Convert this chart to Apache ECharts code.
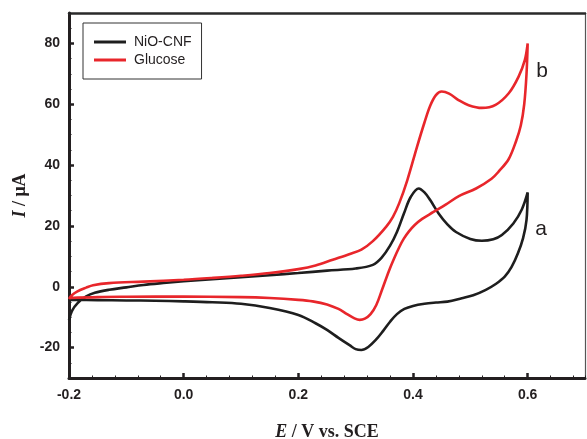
<!DOCTYPE html>
<html>
<head>
<meta charset="utf-8">
<script src="https://cdn.jsdelivr.net/npm/echarts@6/dist/echarts.min.js"></script>
<style>
  html, body { margin: 0; padding: 0; background: #fff; }
  #cv { width: 587px; height: 439px; }
</style>
</head>
<body>
<div id="cv"></div>
<script>
// tick labels
var potentialTicks = [-0.2, 0.0, 0.2, 0.4, 0.6]
var currentTicks = [-20, 0, 20, 40, 60, 80]

// curve a: NiO-CNF, forward scan then reverse scan
var nioE = [-0.2, -0.195, -0.185, -0.17, -0.155, -0.13, -0.1, -0.07, -0.03, 0.0, 0.05, 0.1, 0.15, 0.2, 0.25, 0.3,
  0.33, 0.345, 0.36, 0.372, 0.384, 0.396, 0.41, 0.42, 0.43, 0.445, 0.46, 0.475, 0.5, 0.52, 0.54, 0.555, 0.575, 0.59, 0.6,
  0.598, 0.592, 0.583, 0.572, 0.56, 0.545, 0.527, 0.505, 0.485, 0.46, 0.44, 0.42, 0.4, 0.385, 0.372, 0.36, 0.348, 0.335,
  0.322, 0.31, 0.3, 0.29, 0.27, 0.25, 0.23, 0.2, 0.15, 0.1, 0.05, 0.0, -0.05, -0.1, -0.15, -0.2]
var nioI = [-11, -8, -5.4, -3.2, -2, -1, -0.2, 0.6, 1.3, 1.8, 2.5, 3.1, 3.8, 4.5, 5.3, 6.0,
  7.2, 9.5, 13.5, 18, 24, 29.5, 32.3, 31, 28.5, 24, 20.5, 18, 15.7, 15.1, 15.6, 17, 20.8, 25.5, 31,
  22, 16, 11, 6.5, 3.3, 1, -1, -2.8, -3.8, -4.9, -5.2, -5.6, -6.3, -7.3, -9, -11.5, -14.5, -17.5,
  -19.8, -20.8, -20.5, -19.3, -16.8, -14.2, -12, -9.3, -7, -5.6, -5.1, -4.8, -4.6, -4.5, -4.4, -4.3]

// curve b: Glucose
var glucoseE = [-0.2, -0.195, -0.186, -0.17, -0.158, -0.13, -0.07, 0.0, 0.05, 0.1, 0.15, 0.2, 0.23, 0.26, 0.29, 0.31,
  0.33, 0.353, 0.365, 0.376, 0.39, 0.407, 0.42, 0.43, 0.44, 0.45, 0.463, 0.48, 0.497, 0.52, 0.544, 0.567, 0.584, 0.595, 0.6,
  0.598, 0.594, 0.588, 0.58, 0.567, 0.55, 0.537, 0.51, 0.48, 0.457, 0.435, 0.416, 0.403, 0.393, 0.384, 0.376, 0.367,
  0.358, 0.346, 0.336, 0.326, 0.316, 0.307, 0.298, 0.285, 0.27, 0.25, 0.225, 0.2, 0.15, 0.1, 0.0, -0.1, -0.15, -0.2]
var glucoseI = [-4, -2.8, -1.6, -0.3, 0.5, 1.2, 1.7, 2.3, 2.9, 3.6, 4.5, 5.8, 7, 8.9, 10.8, 12.2,
  15, 19.7, 23, 27.5, 35, 46, 54, 59.5, 63, 64.2, 63.5, 61.3, 59.7, 58.8, 59.8, 63.6, 69, 74.5, 80,
  70, 60, 53, 48, 42, 38, 35.5, 32.3, 29.8, 27, 24.5, 22.3, 20.3, 18.2, 15.8, 13, 9.3,
  5.2, -1, -6, -9, -10.5, -10.9, -10.4, -9, -7.3, -5.8, -4.8, -4.3, -3.7, -3.4, -3.2, -3.3, -3.4, -3.7]

function pairs(xs, ys) {
  return xs.map(function(x, i) {
    return [x, ys[i]]
  })
}

var chart = echarts.init(document.getElementById('cv'))
var ink = '#231f20'
var serif = '"Liberation Serif", "DejaVu Serif", serif'
var sans = '"Liberation Sans", Arial, sans-serif'

chart.setOption({
  animation: false,
  color: ['#1e1e1e', '#e8262b'],
  grid: { left: 69, right: 2, top: 13, bottom: 61, outerBoundsMode: 'none' },
  legend: {
    left: 83,
    top: 23,
    orient: 'vertical',
    padding: [11, 10, 11, 11],
    itemWidth: 32,
    itemHeight: 3,
    itemGap: 2,
    borderColor: '#333',
    borderWidth: 1,
    textStyle: { fontFamily: sans, fontSize: 14, lineHeight: 16, color: ink, padding: [0, 0, 0, 3] },
    data: [{ name: 'NiO-CNF', icon: 'rect' }, { name: 'Glucose', icon: 'rect' }]
  },
  xAxis: [
    {
      type: 'value',
      min: -0.2,
      max: 0.7,
      name: '{i|E} / V vs. SCE',
      nameLocation: 'middle',
      nameGap: 45,
      nameTextStyle: {
        fontFamily: serif, fontWeight: 'bold', fontSize: 18, color: ink,
        rich: { i: { fontFamily: serif, fontWeight: 'bold', fontStyle: 'italic', fontSize: 18, color: ink } }
      },
      axisLine: { onZero: false, lineStyle: { color: ink, width: 3 } },
      axisTick: { inside: true, length: 5, lineStyle: { width: 2.5, color: ink }, customValues: potentialTicks },
      axisLabel: {
        customValues: potentialTicks,
        margin: 10,
        fontFamily: sans, fontWeight: 'bold', fontSize: 14, color: ink,
        formatter: function(v) { return v.toFixed(1) }
      },
      splitLine: { show: false }
    },
    {
      // minor ticks
      type: 'value',
      position: 'bottom',
      min: -0.2,
      max: 0.7,
      interval: 0.04,
      axisLine: { show: false, onZero: false },
      axisTick: { inside: true, length: 2.5, lineStyle: { width: 1, color: ink } },
      axisLabel: { show: false },
      splitLine: { show: false }
    },
    {
      // top frame
      type: 'value',
      position: 'top',
      min: -0.2,
      max: 0.7,
      axisLine: { onZero: false, lineStyle: { color: '#2a2a2a', width: 2.5 } },
      axisTick: { show: false },
      axisLabel: { show: false },
      splitLine: { show: false }
    }
  ],
  yAxis: [
    {
      type: 'value',
      min: -30,
      max: 90,
      name: '{i|I} / μA',
      nameLocation: 'middle',
      nameGap: 40,
      nameTextStyle: {
        fontFamily: serif, fontWeight: 'bold', fontSize: 18, color: ink,
        rich: { i: { fontFamily: serif, fontWeight: 'bold', fontStyle: 'italic', fontSize: 18, color: ink } }
      },
      axisLine: { onZero: false, lineStyle: { color: ink, width: 3 } },
      axisTick: { inside: true, length: 5, lineStyle: { width: 2.5, color: ink }, customValues: currentTicks },
      axisLabel: {
        customValues: currentTicks,
        margin: 9,
        fontFamily: sans, fontWeight: 'bold', fontSize: 14, color: ink
      },
      splitLine: { show: false }
    },
    {
      // minor ticks
      type: 'value',
      position: 'left',
      min: -30,
      max: 90,
      interval: 5,
      axisLine: { show: false, onZero: false },
      axisTick: { inside: true, length: 2.5, lineStyle: { width: 1, color: ink } },
      axisLabel: { show: false },
      splitLine: { show: false }
    },
    {
      // right frame
      type: 'value',
      position: 'right',
      min: -30,
      max: 90,
      axisLine: { onZero: false, lineStyle: { color: '#555', width: 1.2 } },
      axisTick: { show: false },
      axisLabel: { show: false },
      splitLine: { show: false }
    }
  ],
  graphic: [
    { type: 'text', x: 542, y: 71, style: { text: 'b', fontFamily: sans, fontSize: 21, fill: ink, align: 'center', verticalAlign: 'middle' } },
    { type: 'text', x: 541, y: 229, style: { text: 'a', fontFamily: sans, fontSize: 21, fill: ink, align: 'center', verticalAlign: 'middle' } }
  ],
  series: [
    {
      name: 'NiO-CNF',
      type: 'line',
      symbol: 'none',
      smooth: 0.35,
      lineStyle: { width: 2.6 },
      data: pairs(nioE, nioI)
    },
    {
      name: 'Glucose',
      type: 'line',
      symbol: 'none',
      smooth: 0.35,
      lineStyle: { width: 2.6 },
      data: pairs(glucoseE, glucoseI)
    }
  ]
})
</script>
</body>
</html>
